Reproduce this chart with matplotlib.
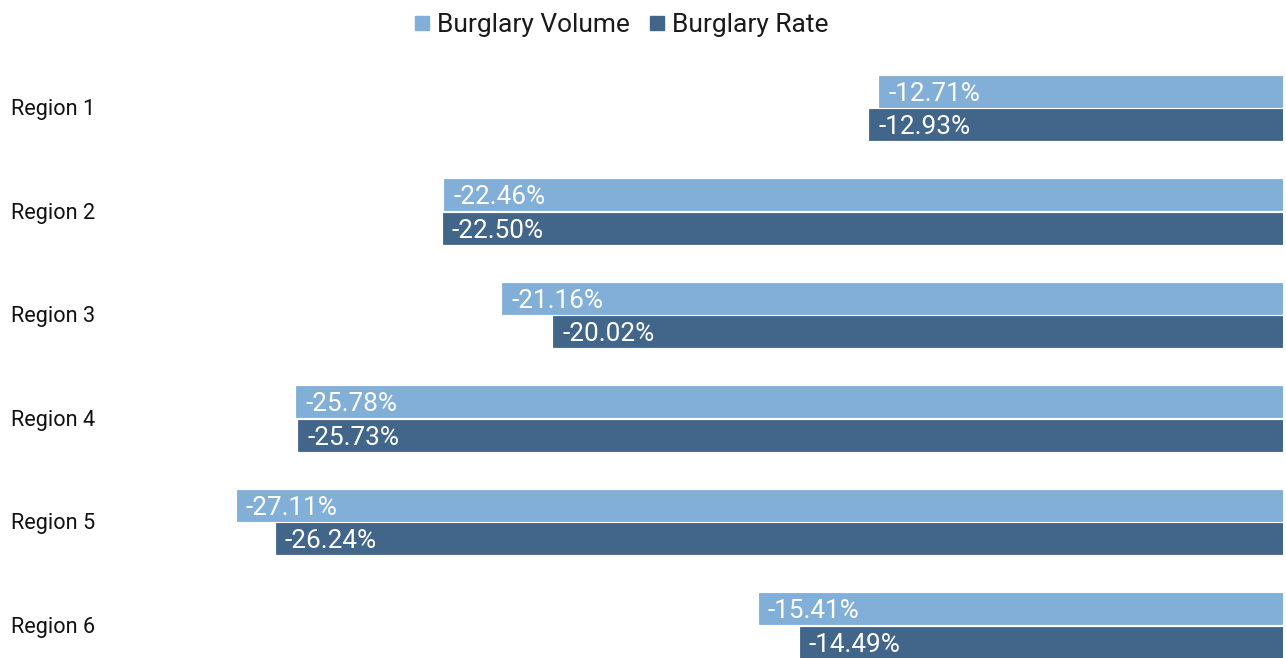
import matplotlib
matplotlib.use("Agg")
import matplotlib.pyplot as plt
from matplotlib import transforms
from matplotlib.lines import Line2D
import numpy as np

plt.rcParams['font.family'] = ['Roboto', 'DejaVu Sans']

regions = ["Region 1", "Region 2", "Region 3", "Region 4", "Region 5", "Region 6"]
burglary_volume = [-12.71, -22.46, -21.16, -25.78, -27.11, -15.41]
burglary_rate = [-12.93, -22.50, -20.02, -25.73, -26.24, -14.49]
series_names = ["Burglary Volume", "Burglary Rate"]
colors = ["#82AFD8", "#426689"]

W, H = 1286, 658
fig = plt.figure(figsize=(W / 100, H / 100), dpi=100)
ax = fig.add_axes([108 / W, 0, (1283 - 108) / W, 1])
ax.set_xlim(-30, -3.66)
ax.set_ylim(5.314, -1.0435)
ax.axis("off")

y = np.arange(len(regions))
off = 0.162
h = 0.30
for vals, dy, col in [(burglary_volume, -off, colors[0]), (burglary_rate, off, colors[1])]:
    ax.barh(y + dy, vals, height=h, color=col, edgecolor=col, linewidth=0.6)
    for yi, v in zip(y, vals):
        ax.annotate(f"{v:.2f}%", xy=(v, yi + dy), xytext=(9, -2.5), textcoords="offset pixels",
                    ha="left", va="center", color="white", fontsize=18.8)

tr = transforms.blended_transform_factory(fig.transFigure, ax.transData)
for yi, name in zip(y, regions):
    ax.text(11 / W, yi + 0.015, name, transform=tr, ha="left", va="center", fontsize=15.6, color="#111111")

handles = [Line2D([], [], marker="s", linestyle="none", markersize=9.4, color=c) for c in colors]
fig.legend(handles, series_names, loc="center", bbox_to_anchor=(622 / W, 1 - 25 / H), ncol=2,
           frameon=False, fontsize=19, handletextpad=0.34, columnspacing=0.76, handlelength=0.5,
           labelcolor="#1a1a1a", borderaxespad=0, borderpad=0)

fig.savefig("out.png", dpi=100)
